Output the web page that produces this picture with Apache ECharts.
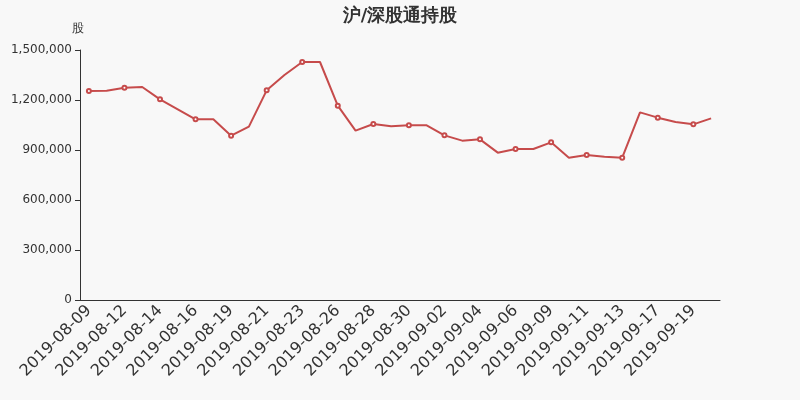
<!DOCTYPE html>
<html><head><meta charset="utf-8">
<script src="https://cdn.jsdelivr.net/npm/echarts@6/dist/echarts.min.js"></script>
<style>html,body{margin:0;padding:0;background:#f8f8f8}#c{width:800px;height:400px}</style>
</head><body><div id="c"></div>
<script>
const dates = ['2019-08-09','2019-08-11','2019-08-12','2019-08-13','2019-08-14','2019-08-15','2019-08-16','2019-08-18','2019-08-19','2019-08-20','2019-08-21','2019-08-22','2019-08-23','2019-08-25','2019-08-26','2019-08-27','2019-08-28','2019-08-29','2019-08-30','2019-09-01','2019-09-02','2019-09-03','2019-09-04','2019-09-05','2019-09-06','2019-09-08','2019-09-09','2019-09-10','2019-09-11','2019-09-12','2019-09-13','2019-09-16','2019-09-17','2019-09-18','2019-09-19','2019-09-20'];
const holdings = [1254000,1256000,1274000,1278000,1204000,1144000,1084000,1084000,986000,1040000,1258000,1350000,1428000,1428000,1166000,1016000,1056000,1042000,1048000,1048000,988000,956000,964000,884000,906000,906000,946000,854000,870000,860000,854000,1126000,1094000,1068000,1054000,1090000];
const yTicks = { min: 0, max: 1500000, interval: 300000 };
const FONT = '"DejaVu Sans", sans-serif';
const chart = echarts.init(document.getElementById('c'));
chart.setOption({
  backgroundColor: '#f8f8f8',
  animation: false,
  textStyle: { fontFamily: FONT },
  title: { text: '沪/深股通持股', left: 'center', top: 2, textStyle: { fontSize: 18, fontWeight: 'bold', color: '#333', fontFamily: FONT } },
  grid: { left: 80, right: 80, top: 50, bottom: 100 },
  xAxis: {
    type: 'category', data: dates, boundaryGap: true,
    axisLine: { lineStyle: { color: '#333' } },
    axisTick: { interval: 1, lineStyle: { color: '#333' } },
    axisLabel: { rotate: 45, fontSize: 16, color: '#333', interval: 1, fontFamily: FONT }
  },
  yAxis: {
    type: 'value', name: '股', min: yTicks.min, max: yTicks.max, interval: yTicks.interval,
    nameTextStyle: { color: '#333', fontSize: 12, align: 'right', padding: [0, -4, 0, 0], fontFamily: FONT },
    axisLine: { show: true, lineStyle: { color: '#333' } },
    axisTick: { show: true, lineStyle: { color: '#333' } },
    splitLine: { show: false },
    axisLabel: { color: '#333', fontSize: 12, fontFamily: FONT, formatter: v => v.toLocaleString('en-US') }
  },
  series: [{
    type: 'line', data: holdings, symbol: 'emptyCircle',
    symbolSize: (v, p) => (p.dataIndex % 2 === 0 ? 4 : 0),
    lineStyle: { color: '#c64b4b', width: 2 },
    itemStyle: { color: '#c64b4b' }
  }]
});
</script></body></html>
